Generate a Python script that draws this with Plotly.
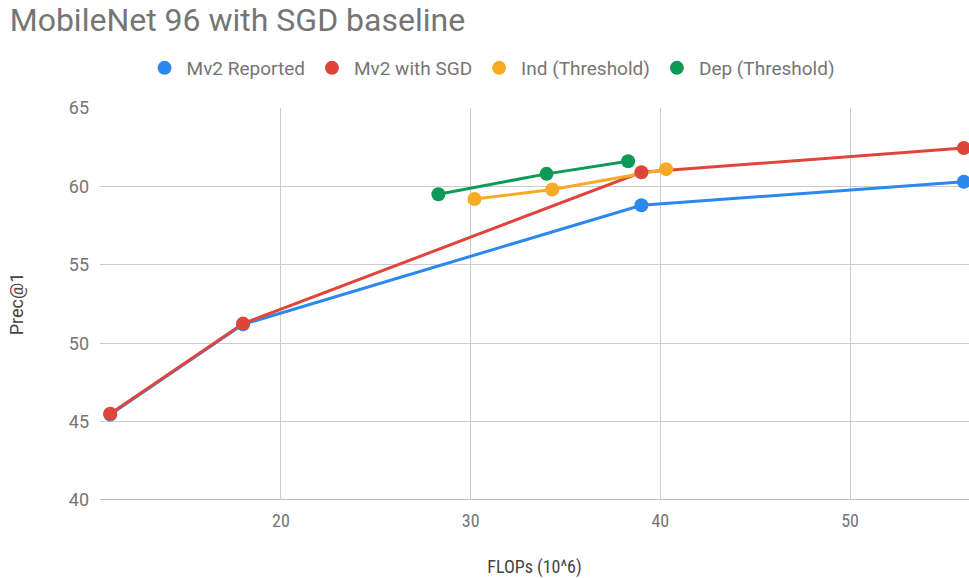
import plotly.graph_objects as go

# FLOPs (10^6) and Prec@1 for each model variant
mv2_reported_flops = [11.0, 18.0, 39.0, 56.0]
mv2_reported_prec = [45.45, 51.2, 58.8, 60.3]

mv2_sgd_flops = [11.0, 18.0, 39.0, 56.0]
mv2_sgd_prec = [45.5, 51.25, 60.9, 62.45]

ind_threshold_flops = [30.2, 34.3, 40.3]
ind_threshold_prec = [59.2, 59.8, 61.1]

dep_threshold_flops = [28.3, 34.0, 38.3]
dep_threshold_prec = [59.5, 60.8, 61.6]

series = [
    ("Mv2 Reported", mv2_reported_flops, mv2_reported_prec, "#2A88EE"),
    ("Mv2 with SGD", mv2_sgd_flops, mv2_sgd_prec, "#E0453A"),
    ("Ind (Threshold)", ind_threshold_flops, ind_threshold_prec, "#F9AA25"),
    ("Dep (Threshold)", dep_threshold_flops, dep_threshold_prec, "#0E9A55"),
]

fig = go.Figure()

# lines first, then points on top
for name, xs, ys, color in series:
    fig.add_trace(go.Scatter(
        x=xs, y=ys, mode="lines", name=name, showlegend=False,
        line=dict(color=color, width=3), hoverinfo="skip",
    ))
for name, xs, ys, color in series:
    fig.add_trace(go.Scatter(
        x=xs, y=ys, mode="markers", name=name,
        marker=dict(color=color, size=14),
    ))

grey = "#757575"
fig.update_layout(
    width=969, height=578,
    margin=dict(l=100, r=0, t=108, b=78),
    paper_bgcolor="white", plot_bgcolor="white",
    font=dict(family="Roboto", color=grey, size=16),
    title=dict(text="MobileNet 96 with SGD baseline", x=0.01, xanchor="left",
               y=0.965, yanchor="middle",
               font=dict(size=32, color=grey)),
    legend=dict(orientation="h", x=0.45, xanchor="center", y=1.0 + 40 / 392,
                yanchor="middle", font=dict(size=19, color=grey),
                itemsizing="trace", itemwidth=34),
    xaxis=dict(
        range=[10.46, 56.27], tickvals=[20, 30, 40, 50],
        showgrid=True, gridcolor="#CCCCCC", gridwidth=1,
        zeroline=False, showline=False, ticks="", ticklabelstandoff=8,
        tickfont=dict(size=18, color=grey, family="Roboto Condensed, Roboto"),
        title=dict(text="FLOPs (10^6)",
                   font=dict(size=18, color="#444444",
                             family="Roboto Condensed, Roboto"),
                   standoff=34),
    ),
    yaxis=dict(
        range=[40, 65], tickvals=[40, 45, 50, 55, 60, 65],
        showgrid=True, gridcolor="#CCCCCC", gridwidth=1,
        zeroline=False, showline=False, ticks="", ticklabelstandoff=10,
        tickfont=dict(size=18, color=grey),
        title=dict(text="Prec@1", font=dict(size=18, color="#444444"),
                   standoff=40),
    ),
)
# darker baseline along the bottom of the plot
fig.add_shape(type="line", xref="paper", yref="y", x0=0, x1=1, y0=40, y1=40,
              line=dict(color="#AAAAAA", width=1.5), layer="below")

fig.write_html("out.html")
